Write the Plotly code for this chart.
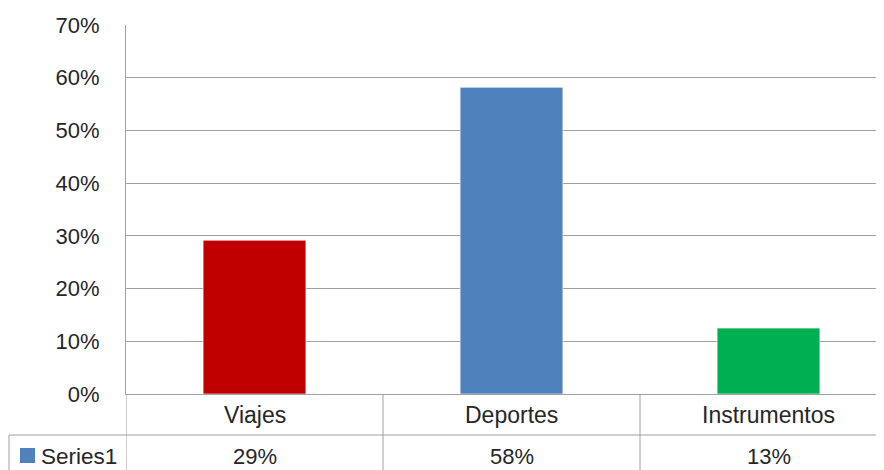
import plotly.graph_objects as go

categories = ["Viajes", "Deportes", "Instrumentos"]
values = [0.2917, 0.5817, 0.125]
table_labels = ["29%", "58%", "13%"]
bar_colors = ["#C00000", "#4F81BD", "#00B050"]
series_name = "Series1"
y_ticks = [0, 0.1, 0.2, 0.3, 0.4, 0.5, 0.6, 0.7]

# page body has an 8px margin, so the figure is placed at (8, 8)
OX, OY = 8, 8
W, H = 884 - OX, 470 - OY
FONT = "Liberation Sans, Arial, sans-serif"
TXT = "#262626"
LINE = "#A0A0A0"

def py(pix):
    return 1 - (pix - OY) / H

def px(pix):
    return (pix - OX) / W

x_left, x_right = 126, 884
cat_w = 257.0
xr_end = -0.5 + (x_right - x_left) / cat_w

fig = go.Figure()
fig.add_trace(go.Bar(
    x=list(range(len(categories))), y=values, name=series_name,
    marker=dict(color=bar_colors, line=dict(color="rgba(255,255,255,0.6)", width=1)),
    width=0.4, showlegend=False,
))

shapes = []
for b in [-0.5, 0.5, 1.5]:
    shapes.append(dict(type="line", xref="x", yref="paper", x0=b, x1=b,
                       y0=py(394), y1=py(470), line=dict(color=LINE, width=1)))
shapes.append(dict(type="line", xref="paper", yref="paper", x0=px(9), x1=1,
                   y0=py(435), y1=py(435), line=dict(color=LINE, width=1)))
shapes.append(dict(type="line", xref="paper", yref="paper", x0=px(9), x1=px(9),
                   y0=py(435), y1=py(470), line=dict(color=LINE, width=1)))
shapes.append(dict(type="rect", xref="paper", yref="paper", x0=px(20), x1=px(35),
                   y0=py(463), y1=py(448), fillcolor="#4F81BD", line=dict(width=0)))

annotations = []
for i, cat in enumerate(categories):
    annotations.append(dict(x=i, xref="x", y=py(415), yref="paper", text=cat,
                            showarrow=False, font=dict(size=23, color=TXT, family=FONT),
                            xanchor="center", yanchor="middle"))
    annotations.append(dict(x=i, xref="x", y=py(456), yref="paper", text=table_labels[i],
                            showarrow=False, font=dict(size=22, color=TXT, family=FONT),
                            xanchor="center", yanchor="middle"))
annotations.append(dict(x=px(39), xref="paper", y=py(456), yref="paper", text=series_name,
                        showarrow=False, font=dict(size=22.5, color=TXT, family=FONT),
                        xanchor="left", yanchor="middle"))

fig.update_layout(
    width=W, height=H,
    margin=dict(l=0, r=0, t=0, b=0),
    paper_bgcolor="white", plot_bgcolor="white",
    bargap=0.6,
    xaxis=dict(domain=[px(x_left), 1], range=[-0.5, xr_end], showticklabels=False,
               showgrid=False, zeroline=False, showline=True, linecolor=LINE, linewidth=1,
               ticks="", automargin=False),
    yaxis=dict(domain=[py(394), py(25)], range=[0, 0.7], tickvals=y_ticks,
               tickformat=".0%", showgrid=True, gridcolor=LINE, gridwidth=1.3,
               zeroline=False, showline=True, linecolor=LINE, linewidth=1,
               ticks="outside", ticklen=21, tickcolor="rgba(0,0,0,0)",
               tickfont=dict(size=22, color=TXT, family=FONT), automargin=False),
    shapes=shapes, annotations=annotations,
)

fig.write_html("out.html")
